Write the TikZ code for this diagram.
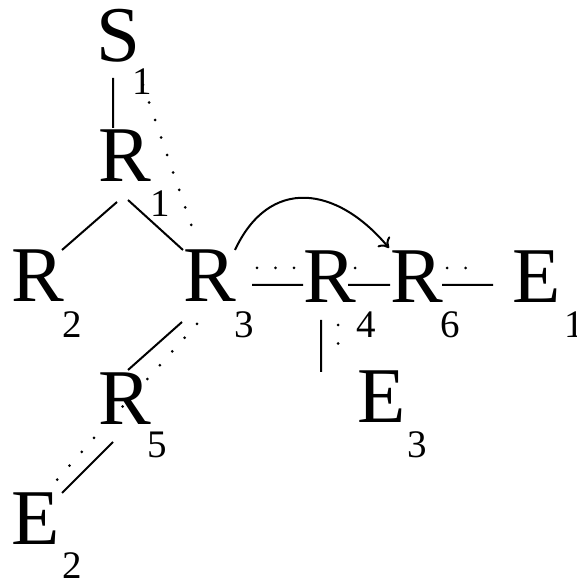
\documentclass[tikz,border=0pt]{standalone}
\usepackage{fontspec}
\setmainfont{Liberation Serif}
\usetikzlibrary{arrows,arrows.meta}
\tikzset{atom/.style={font=\fontsize{79}{79}\selectfont,inner sep=0pt,anchor=base west},
  idx/.style={font=\fontsize{39}{39}\selectfont,inner sep=0pt,anchor=base west},
  dots/.style={line width=3pt,line cap=round,dash pattern=on 0pt off 18.5pt}}
\begin{document}
\begin{tikzpicture}[x=1pt,y=1pt,line width=2pt]
\useasboundingbox(0,0)rectangle(577,583);
\node[atom](S)at(95,521){S};\node[idx](s1)at(131,488){1};
\node[atom](R1)at(97,401){R};\node[idx](r1)at(149,366){1};
\node[atom](R2)at(11,281){R};\node[idx](r2)at(61,245){2};
\node[atom](R3)at(182,281){R};\node[idx](r3)at(233,245){3};
\node[atom](R4)at(302,280){R};\node[idx](r4)at(355,245){4};
\node[atom](R6)at(389,280){R};\node[idx](r6)at(439,245){6};
\node[atom](E1)at(511,280){E};\node[idx](e1)at(563,245){1};
\node[atom](E3)at(356,160){E};\node[idx](e3)at(406,125){3};
\node[atom](R5)at(97,158){R};\node[idx](r5)at(146,125){5};
\node[atom](E2)at(11,38){E};\node[idx](e2)at(61,5){2};
\draw([shift={(18,-16)}]S.base west)--([shift={(16,54)}]R1.base west)
  ([shift={(20,-20)}]R1.base west)--([shift={(51,52)}]R2.base west)
  ([shift={(31,-18)}]R1.base west)--([shift={(1,52)}]R3.base west)
  ([shift={(70,17)}]R3.base west)--([shift={(1,18)}]R4.base west)
  ([shift={(46,18)}]R4.base west)--([shift={(1,18)}]R6.base west)
  ([shift={(53,18)}]R6.base west)--([shift={(-18,18)}]E1.base west)
  ([shift={(19,-17)}]R4.base west)--([shift={(-35,51)}]E3.base west)
  ([shift={(0,-20)}]R3.base west)--([shift={(31,55)}]R5.base west)
  ([shift={(16,-17)}]R5.base west)--([shift={(51,52)}]E2.base west);
\draw[dots]([shift={(48,-23)}]S.base west)--([shift={(11,72)}]R3.base west)
  ([shift={(75,34)}]R3.base west)--([shift={(-7,35)}]R4.base west)
  ([shift={(53,35)}]R4.base west)--([shift={(-16,35)}]R6.base west)
  ([shift={(58,35)}]R6.base west)--([shift={(-28,35)}]E1.base west)
  ([shift={(36,-22)}]R4.base west)--([shift={(-18,62)}]E3.base west)
  ([shift={(15,-22)}]R3.base west)--([shift={(10,1)}]R5.base west)
  ([shift={(-3,-13)}]R5.base west)--([shift={(45,64)}]E2.base west);
\draw[-{To[length=9pt,width=16pt]}]([shift={(53,52)}]R3.base west)to[out=65,in=130,looseness=1.35]([shift={(0,55)}]R6.base west);
\end{tikzpicture}
\end{document}
